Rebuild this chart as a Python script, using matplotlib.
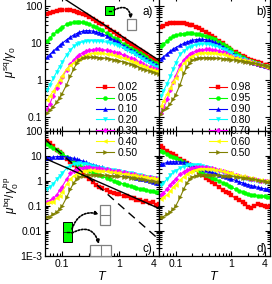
import matplotlib
matplotlib.use('Agg')
import matplotlib.pyplot as plt
from matplotlib.patches import Rectangle, FancyArrowPatch
from matplotlib.ticker import FixedLocator, NullFormatter, LogLocator, FixedFormatter

plt.rcParams['font.family'] = ['Liberation Sans', 'DejaVu Sans']
plt.rcParams['mathtext.fontset'] = 'custom'
plt.rcParams['mathtext.rm'] = 'Liberation Sans'
plt.rcParams['mathtext.it'] = 'Liberation Sans:italic'

# ---------------- data ----------------
T = [0.055, 0.06, 0.07, 0.08, 0.09, 0.10, 0.12, 0.14, 0.16, 0.18, 0.20, 0.23, 0.26,
     0.30, 0.35, 0.40, 0.45, 0.50, 0.60, 0.70, 0.80, 0.90, 1.0, 1.2, 1.4, 1.6, 1.8,
     2.0, 2.3, 2.6, 3.0, 3.5, 4.0, 4.5, 5.0]

labels_a = ['0.02', '0.05', '0.10', '0.20', '0.30', '0.40', '0.50']
labels_b = ['0.98', '0.95', '0.90', '0.80', '0.70', '0.60', '0.50']

# panel a: mu_sq / gamma0, small q
a_002 = [60, 64, 70, 74, 77, 78, 78, 76, 73, 69, 66, 61, 56, 50, 44, 39, 35, 32, 26.5, 22.5,
         19.5, 17.2, 15.2, 12.6, 10.8, 9.4, 8.4, 7.5, 6.5, 5.7, 5.0, 4.3, 3.7, 3.3, 3.0]
a_005 = [11.5, 13.5, 17, 20.5, 24, 27, 32, 35, 36.5, 37, 37, 36, 34.5, 32, 29, 26.5, 24, 22,
         18.5, 16, 14, 12.5, 11.3, 9.5, 8.2, 7.2, 6.5, 5.9, 5.2, 4.6, 4.1, 3.5, 3.1, 2.8, 2.6]
a_010 = [4.1, 4.8, 6.0, 7.3, 8.6, 9.8, 12.2, 14.5, 16.5, 18, 19.5, 20.8, 21.5, 21.5, 20.8,
         19.8, 18.7, 17.6, 15.6, 13.8, 12.2, 11, 10, 8.5, 7.4, 6.6, 5.9, 5.4, 4.8, 4.3, 3.8,
         3.3, 2.9, 2.6, 2.45]
a_020 = [0.54, 0.72, 1.1, 1.65, 2.3, 3.0, 4.8, 6.5, 8.1, 9.2, 10, 10.8, 11.2, 11.5, 11.5,
         11.4, 11.2, 11, 10.5, 10, 9.4, 8.8, 8.3, 7.3, 6.5, 5.8, 5.2, 4.7, 4.2, 3.7, 3.2,
         2.8, 2.5, 2.3, 2.2]
a_030 = [0.16, 0.22, 0.38, 0.62, 0.9, 1.2, 1.9, 2.7, 3.5, 4.2, 4.8, 5.5, 6.0, 6.4, 6.6, 6.7,
         6.7, 6.6, 6.4, 6.1, 5.8, 5.5, 5.2, 4.7, 4.3, 3.9, 3.6, 3.3, 3.0, 2.7, 2.45, 2.2,
         2.05, 1.95, 1.9]
a_040 = [0.29, 0.36, 0.5, 0.72, 1.0, 1.3, 2.0, 2.5, 2.95, 3.4, 3.8, 4.3, 4.7, 5.0, 5.2, 5.3,
         5.3, 5.25, 5.1, 4.9, 4.7, 4.5, 4.3, 3.9, 3.6, 3.3, 3.05, 2.85, 2.6, 2.4, 2.2, 2.0,
         1.85, 1.75, 1.7]
a_050 = [0.13, 0.15, 0.19, 0.25, 0.33, 0.43, 0.75, 1.3, 2.0, 2.8, 3.5, 3.95, 4.05, 4.1, 4.1,
         4.05, 4.0, 3.95, 3.85, 3.7, 3.55, 3.4, 3.3, 3.05, 2.85, 2.65, 2.5, 2.35, 2.15, 2.0,
         1.85, 1.7, 1.6, 1.5, 1.45]

# panel b: mu_sq / gamma0, large q
b_098 = [27, 29, 32, 34, 35, 35.5, 35, 34, 32.5, 31, 30, 27.5, 25, 22, 19.5, 17.5, 15.5, 14,
         11.5, 9.7, 8.5, 7.4, 6.6, 5.6, 4.9, 4.4, 4.1, 3.8, 3.5, 3.2, 3.0, 2.8, 2.6, 2.5, 2.4]
b_095 = [8.2, 9.2, 11.6, 13.5, 15, 16, 17.2, 18, 18.4, 18.4, 18.2, 17.8, 17.2, 16.3, 15.3,
         14.4, 13.4, 12.5, 10.8, 9.3, 8.1, 7.2, 6.4, 5.3, 4.6, 4.1, 3.8, 3.5, 3.2, 3.0, 2.8,
         2.6, 2.45, 2.35, 2.25]
b_090 = [3.7, 4.2, 5.1, 6.0, 6.9, 7.5, 8.7, 9.8, 10.7, 11.3, 11.8, 12.3, 12.6, 12.6, 12.3,
         11.8, 11.2, 10.5, 9.2, 8.0, 7.0, 6.2, 5.6, 4.8, 4.3, 3.9, 3.6, 3.4, 3.15, 2.95, 2.75,
         2.6, 2.45, 2.35, 2.25]
b_080 = [0.38, 0.5, 0.8, 1.25, 2.0, 2.9, 4.9, 6.2, 7.1, 7.8, 8.3, 8.9, 9.2, 9.4, 9.4, 9.2,
         8.8, 8.4, 7.7, 7.0, 6.3, 5.7, 5.2, 4.5, 4.1, 3.8, 3.55, 3.35, 3.1, 2.9, 2.7, 2.55,
         2.4, 2.3, 2.2]
b_070 = [0.13, 0.17, 0.3, 0.55, 0.9, 1.3, 2.5, 3.5, 4.3, 5.0, 5.5, 6.0, 6.4, 6.6, 6.7, 6.7,
         6.6, 6.4, 6.0, 5.6, 5.2, 4.8, 4.5, 4.0, 3.7, 3.5, 3.35, 3.2, 3.0, 2.85, 2.7, 2.5,
         2.35, 2.25, 2.15]
b_060 = [0.2, 0.27, 0.42, 0.62, 0.88, 1.15, 2.0, 2.8, 3.5, 4.1, 4.5, 4.9, 5.2, 5.4, 5.5, 5.5,
         5.45, 5.35, 5.1, 4.9, 4.6, 4.4, 4.2, 3.9, 3.7, 3.5, 3.35, 3.2, 3.0, 2.85, 2.7, 2.5,
         2.35, 2.25, 2.15]
b_050 = [0.12, 0.15, 0.18, 0.23, 0.3, 0.4, 0.75, 1.5, 2.3, 2.9, 3.4, 3.8, 3.95, 4.0, 4.0,
         4.0, 3.95, 3.9, 3.85, 3.8, 3.7, 3.6, 3.55, 3.45, 3.35, 3.25, 3.15, 3.05, 2.95, 2.85,
         2.7, 2.6, 2.5, 2.4, 2.3]

# panel c: mu_bq / gamma0_bp, small q
c_002 = [40, 33, 24, 18, 14.5, 11.5, 7.8, 5.7, 4.3, 3.4, 2.7, 2.0, 1.6, 1.2, 0.9, 0.72, 0.6,
         0.52, 0.42, 0.36, 0.34, 0.30, 0.29, 0.25, 0.24, 0.20, 0.21, 0.18, 0.17, 0.15, 0.16,
         0.13, 0.14, 0.11, 0.12]
c_005 = [30, 26, 21, 17, 14.5, 12.5, 9.5, 7.3, 5.9, 4.9, 4.2, 3.5, 3.0, 2.6, 2.2, 1.9, 1.7,
         1.55, 1.3, 1.15, 1.02, 0.93, 0.86, 0.76, 0.68, 0.62, 0.58, 0.54, 0.5, 0.47, 0.44,
         0.41, 0.39, 0.37, 0.35]
c_010 = [8.2, 8.6, 9.1, 9.4, 9.5, 9.5, 9.2, 8.6, 8.0, 7.4, 6.9, 6.2, 5.6, 5.0, 4.5, 4.1, 3.8,
         3.5, 3.1, 2.8, 2.55, 2.35, 2.2, 1.95, 1.75, 1.6, 1.47, 1.36, 1.25, 1.15, 1.05, 0.97,
         0.9, 0.85, 0.8]
c_020 = [0.5, 0.58, 0.78, 1.15, 1.6, 2.1, 3.2, 4.1, 4.7, 5.0, 5.1, 5.0, 4.7, 4.3, 3.9, 3.6,
         3.4, 3.2, 3.0, 2.85, 2.7, 2.6, 2.5, 2.3, 2.15, 2.0, 1.9, 1.8, 1.7, 1.6, 1.5, 1.42,
         1.35, 1.3, 1.25]
c_030 = [0.15, 0.16, 0.2, 0.28, 0.42, 0.6, 1.2, 2.0, 2.6, 3.0, 3.25, 3.4, 3.5, 3.5, 3.4,
         3.3, 3.2, 3.1, 2.9, 2.75, 2.6, 2.5, 2.4, 2.2, 2.05, 1.95, 1.85, 1.75, 1.65, 1.55,
         1.47, 1.4, 1.33, 1.28, 1.22]
c_040 = [0.13, 0.14, 0.15, 0.2, 0.26, 0.36, 0.75, 1.25, 1.6, 1.95, 2.2, 2.45, 2.6, 2.65,
         2.65, 2.6, 2.55, 2.5, 2.4, 2.3, 2.2, 2.12, 2.05, 1.93, 1.83, 1.75, 1.67, 1.6, 1.52,
         1.46, 1.4, 1.34, 1.29, 1.25, 1.2]
c_050 = [0.035, 0.038, 0.047, 0.058, 0.075, 0.1, 0.22, 0.48, 0.85, 1.2, 1.45, 1.65, 1.75,
         1.78, 1.78, 1.76, 1.74, 1.72, 1.68, 1.64, 1.6, 1.56, 1.52, 1.46, 1.4, 1.35, 1.3,
         1.26, 1.2, 1.15, 1.1, 1.04, 0.98, 0.93, 0.88]

# panel d: mu_bq / gamma0_bp, large q
d_098 = [26, 21, 16.5, 13.5, 11.5, 10, 7.8, 6.2, 5.2, 4.5, 3.9, 2.9, 2.3, 1.8, 1.3, 1.05,
         0.9, 0.75, 0.58, 0.45, 0.38, 0.32, 0.27, 0.2, 0.17, 0.14, 0.12, 0.09, 0.08, 0.1,
         0.12, 0.11, 0.1, 0.095, 0.1]
d_095 = [16.5, 14.5, 12, 10.3, 9.3, 8.6, 7.2, 5.9, 5.0, 4.3, 3.7, 3.0, 2.6, 2.2, 1.8, 1.55,
         1.35, 1.2, 1.0, 0.86, 0.74, 0.64, 0.56, 0.47, 0.41, 0.37, 0.33, 0.3, 0.28, 0.27,
         0.26, 0.25, 0.24, 0.23, 0.22]
d_090 = [4.6, 5.0, 5.5, 5.8, 5.9, 5.9, 5.8, 5.5, 5.1, 4.6, 4.2, 3.7, 3.3, 2.95, 2.65, 2.4,
         2.2, 2.05, 1.8, 1.6, 1.45, 1.33, 1.22, 1.05, 0.93, 0.84, 0.77, 0.72, 0.66, 0.61,
         0.56, 0.52, 0.49, 0.47, 0.45]
d_080 = [0.7, 0.85, 1.2, 1.7, 2.2, 2.6, 3.3, 3.8, 4.2, 4.4, 4.5, 4.5, 4.4, 4.1, 3.7, 3.4,
         3.1, 2.85, 2.5, 2.2, 2.0, 1.85, 1.72, 1.55, 1.42, 1.33, 1.26, 1.2, 1.13, 1.07, 1.02,
         0.97, 0.93, 0.9, 0.87]
d_070 = [0.27, 0.33, 0.48, 0.7, 0.95, 1.25, 1.85, 2.35, 2.7, 3.0, 3.3, 3.6, 3.7, 3.7, 3.55,
         3.4, 3.2, 3.0, 2.7, 2.5, 2.3, 2.15, 2.0, 1.8, 1.63, 1.5, 1.4, 1.32, 1.23, 1.16, 1.1,
         1.04, 1.0, 0.97, 0.94]
d_060 = [0.19, 0.22, 0.28, 0.4, 0.55, 0.7, 1.1, 1.5, 1.9, 2.25, 2.55, 2.85, 3.05, 3.15, 3.15,
         3.05, 2.95, 2.85, 2.65, 2.45, 2.3, 2.15, 2.0, 1.8, 1.65, 1.52, 1.42, 1.35, 1.27, 1.2,
         1.14, 1.08, 1.03, 1.0, 0.97]
d_050 = [0.035, 0.038, 0.047, 0.058, 0.075, 0.1, 0.22, 0.48, 0.85, 1.2, 1.45, 1.65, 1.75,
         1.78, 1.78, 1.76, 1.74, 1.72, 1.68, 1.64, 1.6, 1.56, 1.52, 1.46, 1.4, 1.35, 1.3,
         1.26, 1.2, 1.15, 1.1, 1.04, 0.98, 0.93, 0.88]

# reference lines
line_a_coef = 17.0      # mu = 17 / T
line_c_coef = 0.4       # mu = 0.4 / T
dash_c_coef = 0.115     # mu = 0.115 / T^2
T_line = [0.05, 5.0]

# ---------------- style ----------------
colors = ['#FF0000', '#00FF00', '#0000FF', '#00FFFF', '#FF00FF', '#FFFF00', '#808000']
markers = ['s', 'o', '^', 'v', 'D', '<', '>']

W, H = 272, 284
fig = plt.figure(figsize=(W / 100, H / 100), dpi=100)


def rect(x0, x1, ytop, ybot):
    return [x0 / W, 1 - ybot / H, (x1 - x0) / W, (ybot - ytop) / H]


ax_a = fig.add_axes(rect(45, 159, -4, 131))
ax_b = fig.add_axes(rect(159, 270, -4, 131))
ax_c = fig.add_axes(rect(45, 159, 131, 256))
ax_d = fig.add_axes(rect(159, 270, 131, 256))

top_ylim = (0.0417, 186)
bot_ylim = (1e-3, 100)

panels = [
    (ax_a, [a_002, a_005, a_010, a_020, a_030, a_040, a_050], labels_a),
    (ax_b, [b_098, b_095, b_090, b_080, b_070, b_060, b_050], labels_b),
    (ax_c, [c_002, c_005, c_010, c_020, c_030, c_040, c_050], labels_a),
    (ax_d, [d_098, d_095, d_090, d_080, d_070, d_060, d_050], labels_b),
]

handles = {}
for ax, series, labs in panels:
    hs = []
    for ys, col, mk, lab in zip(series, colors, markers, labs):
        h, = ax.plot(T, ys, color=col, marker=mk, markersize=2.9 if mk != 'D' else 2.4,
                     markeredgewidth=0.3, markeredgecolor=col, linewidth=0.8, label=lab)
        hs.append(h)
    handles[ax] = hs

ax_a.plot(T_line, [line_a_coef / t for t in T_line], color='black', lw=1.0, zorder=5)
ax_c.plot(T_line, [line_c_coef / t for t in T_line], color='black', lw=1.0, zorder=5)
ax_c.plot(T_line, [dash_c_coef / t ** 2 for t in T_line], color='black', lw=1.0,
          linestyle=(0, (6, 4)), zorder=5)

for ax in [ax_a, ax_b, ax_c, ax_d]:
    ax.set_xscale('log')
    ax.set_yscale('log')
    ax.set_xlim(0.05, 5)
    ax.xaxis.set_major_locator(FixedLocator([0.1, 1, 4]))
    ax.xaxis.set_minor_locator(FixedLocator([0.06, 0.07, 0.08, 0.09, 0.2, 0.3, 0.4, 0.5,
                                             0.6, 0.7, 0.8, 0.9, 2, 3]))
    ax.xaxis.set_major_formatter(FixedFormatter(['0.1', '1', '4']))
    ax.xaxis.set_minor_formatter(NullFormatter())
    ax.yaxis.set_minor_locator(LogLocator(base=10, subs=range(2, 10), numticks=20))
    ax.yaxis.set_minor_formatter(NullFormatter())
    ax.tick_params(which='both', direction='in', top=True, right=True, labelsize=7.5,
                   width=0.8, pad=2)
    ax.tick_params(which='major', length=3.5)
    ax.tick_params(which='minor', length=2)
    for s in ax.spines.values():
        s.set_linewidth(0.9)

for ax in [ax_a, ax_b]:
    ax.set_ylim(*top_ylim)
    ax.yaxis.set_major_locator(FixedLocator([0.1, 1, 10, 100]))
    ax.yaxis.set_major_formatter(FixedFormatter(['0.1', '1', '10', '100']))
    ax.tick_params(labelbottom=False)
for ax in [ax_c, ax_d]:
    ax.set_ylim(*bot_ylim)
    ax.yaxis.set_major_locator(FixedLocator([1e-3, 0.01, 0.1, 1, 10, 100]))
    ax.yaxis.set_major_formatter(FixedFormatter(['1E-3', '0.01', '0.1', '1', '10', '100']))
    ax.set_xlabel('$T$', fontsize=9, labelpad=1)
for ax in [ax_b, ax_d]:
    ax.tick_params(labelleft=False)

fig.text(11 / W, 1 - 62 / H, r'$\mu^{\mathrm{sq}}/\gamma_{0}$', rotation=90,
         ha='center', va='center', fontsize=8.5)
fig.text(11 / W, 1 - 195 / H, r'$\mu^{\mathrm{bq}}/\gamma_{0}^{\mathrm{bp}}$', rotation=90,
         ha='center', va='center', fontsize=8.5)

for txt, px, py in [('a)', 148, 12), ('b)', 262, 12), ('c)', 147, 249), ('d)', 262, 249)]:
    fig.text(px / W, 1 - py / H, txt, ha='center', va='center', fontsize=8.5)

# legends
leg_kw = dict(loc='upper left', frameon=False, fontsize=7.5, handlelength=1.7,
              handletextpad=0.35, labelspacing=0.08, borderpad=0, borderaxespad=0)
fig.legend(handles[ax_a], labels_a, bbox_to_anchor=(96 / W, 1 - 82.5 / H), **leg_kw)
fig.legend(handles[ax_b], labels_b, bbox_to_anchor=(209 / W, 1 - 82.5 / H), **leg_kw)


# schematic insets (figure pixel coords)
def fx(px):
    return px / W


def fy(py):
    return 1 - py / H


def box(x0, y0, x1, y1, fc, ec, lw=0.8):
    fig.patches.append(Rectangle((fx(x0), fy(y1)), fx(x1) - fx(x0), fy(y0) - fy(y1),
                                 transform=fig.transFigure, facecolor=fc, edgecolor=ec,
                                 linewidth=lw, zorder=10))


def seg(x0, y0, x1, y1, col, lw=0.6):
    fig.lines.append(plt.Line2D([fx(x0), fx(x1)], [fy(y0), fy(y1)], transform=fig.transFigure,
                                color=col, lw=lw, zorder=11))


def arrow(x0, y0, x1, y1, rad):
    fig.patches.append(FancyArrowPatch((fx(x0), fy(y0)), (fx(x1), fy(y1)),
                                       transform=fig.transFigure,
                                       connectionstyle=f'arc3,rad={rad}', arrowstyle='-|>',
                                       mutation_scale=5, linestyle=(0, (1, 1)), lw=1.2,
                                       color='black', zorder=12, shrinkA=0, shrinkB=0))


# panel a inset
box(105, 6, 114, 15, '#00FF00', 'black', 0.7)
seg(109, 10.5, 111, 10.5, 'black', 1.0)
box(127, 19, 136, 30, 'white', '#808080', 0.9)
arrow(114, 10, 131, 19, -0.7)

# panel c inset
box(63, 222, 72, 242, '#00FF00', 'black', 0.7)
seg(63, 232, 72, 232, 'black', 0.5)
seg(67, 231.5, 69, 231.5, 'black', 1.0)
box(100, 205, 110, 225, 'white', '#808080', 0.9)
seg(100, 215, 110, 215, '#808080', 0.8)
box(90, 245, 111, 256, 'white', '#808080', 0.9)
seg(100.5, 245, 100.5, 256, '#808080', 0.8)
arrow(72, 229, 99, 214, -0.45)
arrow(72, 233, 99, 244, -0.6)

fig.savefig('out.png', dpi=100)
